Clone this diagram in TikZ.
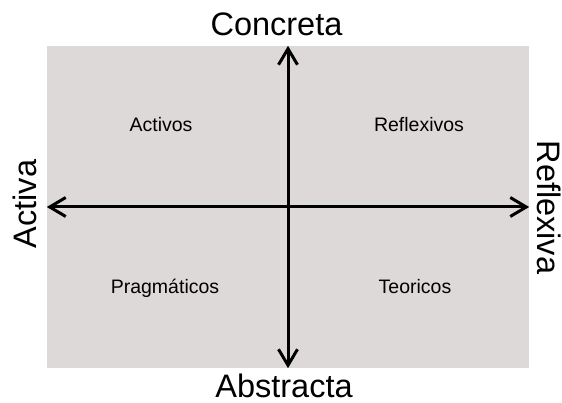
\documentclass[tikz,border=0pt]{standalone}
\usepackage{fontspec}
\setmainfont{Liberation Sans}
\usetikzlibrary{arrows.meta}

\definecolor{fondo}{RGB}{221,217,217}

\begin{document}
\begin{tikzpicture}[x=1pt,y=-1pt,
  eje/.style={line width=3pt,{Straight Barb[length=16pt,width=19pt]}-{Straight Barb[length=16pt,width=19pt]}},
  grande/.style={font=\fontsize{32.5}{39}\selectfont,inner sep=0pt},
  estilo/.style={font=\fontsize{19.5}{23}\selectfont,inner sep=0pt}]
\useasboundingbox (0,0) rectangle (562,403);
\node [fill=fondo,minimum width=482pt,minimum height=322pt,inner sep=0pt] (plano) at (288,207) {};
\draw [eje] (plano.west) -- (plano.east);
\draw [eje] (plano.north) -- (plano.south);
\node [grande] (concreta) at (276.5,24) {Concreta};
\node [grande] (abstracta) at (284,386) {Abstracta};
\node [grande,rotate=90] (activa) at (25,204) {Activa};
\node [grande,rotate=-90] (reflexiva) at (549,207.5) {Reflexiva};
\node [estilo] (activos) at (161,125) {Activos};
\node [estilo] (reflexivos) at (419,125) {Reflexivos};
\node [estilo] (pragmaticos) at (165,288) {Pragmáticos};
\node [estilo] (teoricos) at (415,287) {Teoricos};
\end{tikzpicture}
\end{document}
